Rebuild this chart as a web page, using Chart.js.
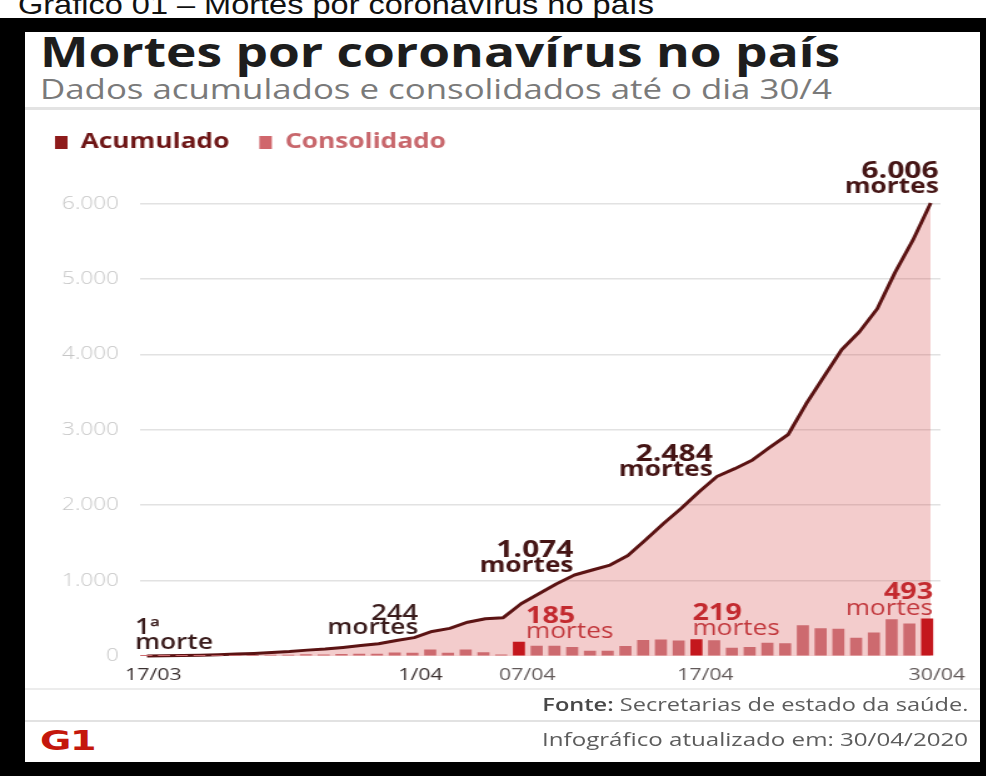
<!DOCTYPE html>
<html lang="pt-BR">
<head>
<meta charset="utf-8">
<title>Mortes por coronavírus no país</title>
<script src="https://cdn.jsdelivr.net/npm/chart.js@4.4.1/dist/chart.umd.min.js"></script>
<style>
  html, body { margin: 0; padding: 0; background: #fff; }
  body { position: relative; width: 986px; height: 776px; overflow: hidden; font-family: "Open Sans", "DejaVu Sans", sans-serif; }
  .txt { position: absolute; white-space: nowrap; transform-origin: 0 0; }
  .dir { transform-origin: 100% 0; }
  #cabecalho { left: 18px; top: -9px; font: 28px/28px "Liberation Sans", Arial, sans-serif; color: #111; }
  #moldura { position: absolute; left: 0; top: 18px; width: 986px; height: 758px; background: #000; }
  #cartao { position: absolute; left: 25px; top: 32px; width: 955px; height: 730px; background: #fff; overflow: hidden; }
  #titulo { left: 15px; top: -2.3px; font: 700 42px/42px "Open Sans", sans-serif; color: #1d1d1d; }
  #subtitulo { left: 15px; top: 42px; font: 400 28px/28px "Open Sans", sans-serif; color: #7a7a7a; }
  .sep { position: absolute; left: 0; width: 955px; }
  #sep1 { top: 75px; height: 3px; background: #e3e3e3; }
  #sep2 { top: 656px; height: 2px; background: #ececec; }
  #sep3 { top: 688px; height: 2px; background: #e2e2e2; }
  #grafico { position: absolute; left: 0; top: 76px; }
  #fonte { right: 12px; top: 663px; font: 400 18px/18px "Open Sans", sans-serif; color: #5c5c5c; }
  #fonte b { font-weight: 600; color: #474747; }
  #atualizacao { right: 12px; top: 698px; font: 400 18px/18px "Open Sans", sans-serif; color: #5c5c5c; }
  #logo { left: 15px; top: 695px; font: 700 27px/27px "DejaVu Sans", sans-serif; color: #c4170c; letter-spacing: -1px; }
</style>
</head>
<body>
<div id="cabecalho" class="txt">Gráfico 01 – Mortes por coronavírus no país</div>
<div id="moldura"></div>
<div id="cartao">
  <div id="titulo" class="txt">Mortes por coronavírus no país</div>
  <div id="subtitulo" class="txt">Dados acumulados e consolidados até o dia 30/4</div>
  <div id="sep1" class="sep"></div>
  <canvas id="grafico" width="762" height="588"></canvas>
  <div id="sep2" class="sep"></div>
  <div id="fonte" class="txt dir"><b>Fonte:</b> Secretarias de estado da saúde.</div>
  <div id="sep3" class="sep"></div>
  <div id="atualizacao" class="txt dir">Infográfico atualizado em: 30/04/2020</div>
  <div id="logo" class="txt">G1</div>
</div>
<script>
// ---- Dados ----
const dias = [
  '17/03','18/03','19/03','20/03','21/03','22/03','23/03','24/03','25/03','26/03',
  '27/03','28/03','29/03','30/03','31/03','01/04','02/04','03/04','04/04','05/04',
  '06/04','07/04','08/04','09/04','10/04','11/04','12/04','13/04','14/04','15/04',
  '16/04','17/04','18/04','19/04','20/04','21/04','22/04','23/04','24/04','25/04',
  '26/04','27/04','28/04','29/04','30/04'
];
// mortes acumuladas por dia
const acumulado = [
  1, 4, 7, 11, 18, 25, 34, 47, 59, 78,
  93, 114, 138, 163, 206, 244, 326, 366, 448, 493,
  508, 693, 826, 959, 1074, 1140, 1206, 1334, 1542, 1758,
  1958, 2177, 2380, 2484, 2600, 2772, 2937, 3341, 3703, 4061,
  4299, 4605, 5087, 5513, 6006
];
// mortes consolidadas no dia
const consolidado = [
  1, 3, 3, 4, 7, 7, 9, 13, 12, 19,
  15, 21, 24, 25, 43, 38, 82, 40, 82, 45,
  15, 185, 133, 133, 115, 66, 66, 128, 208, 216,
  200, 219, 203, 104, 116, 172, 165, 404, 362, 358,
  238, 306, 482, 426, 493
];
const diasDestaque = ['07/04', '17/04', '30/04'];
const marcasEixoX = ['17/03', '01/04', '07/04', '17/04', '30/04'];
const textosEixoX = ['17/03', '1/04', '07/04', '17/04', '30/04'];
const marcasEixoY = [0, 1000, 2000, 3000, 4000, 5000, 6000];

// ---- Layout ----
// o canvas é desenhado mais estreito e esticado na horizontal
const ESTIRAMENTO = 1.25;
const canvas = document.getElementById('grafico');
canvas.style.width = (canvas.width * ESTIRAMENTO) + 'px';
canvas.style.height = canvas.height + 'px';

function ajustarLargura(id, largura) {
  const el = document.getElementById(id);
  const w = el.getBoundingClientRect().width;
  el.style.transform = 'scaleX(' + (largura / w) + ')';
}
ajustarLargura('cabecalho', 636);
ajustarLargura('titulo', 800);
ajustarLargura('subtitulo', 792);
ajustarLargura('fonte', 426);
ajustarLargura('atualizacao', 426);
ajustarLargura('logo', 55);

function formatarMilhar(v) {
  return String(v).replace(/\B(?=(\d{3})+(?!\d))/g, '.');
}

const corEscura = '#451515';
const corMedia = '#3a1c1c';
const corVermelha = '#c32a2f';
const corVermelhaTexto = '#c2383d';
const fam = '"Open Sans", sans-serif';

// rótulos presos aos pontos (série 0) ou ao topo das barras (série 1)
const rotulosValores = [
  { serie: 0, dia: '17/03', alinh: 'left', dx: -12, linhas: [
    { texto: v => v + 'ª', peso: 600, tam: 21, cor: corMedia, dy: -22 },
    { texto: () => 'morte', peso: 600, tam: 21, cor: corMedia, dy: -7 } ] },
  { serie: 0, dia: '01/04', alinh: 'right', dx: 4, linhas: [
    { texto: formatarMilhar, peso: 600, tam: 22, cor: corMedia, dy: -17.5 },
    { texto: () => 'mortes', peso: 600, tam: 21, cor: corMedia, dy: -3.5 } ] },
  { serie: 0, dia: '10/04', alinh: 'right', dx: -1, linhas: [
    { texto: formatarMilhar, peso: 700, tam: 24, cor: corEscura, dy: -18.5 },
    { texto: () => 'mortes', peso: 700, tam: 21, cor: corEscura, dy: -3.5 } ] },
  { serie: 0, dia: '19/04', alinh: 'right', dx: -22, linhas: [
    { texto: formatarMilhar, peso: 700, tam: 24, cor: corEscura, dy: -7.5 },
    { texto: () => 'mortes', peso: 700, tam: 21, cor: corEscura, dy: 7.5 } ] },
  { serie: 0, dia: '30/04', alinh: 'right', dx: 8, linhas: [
    { texto: formatarMilhar, peso: 700, tam: 24, cor: corEscura, dy: -25.5 },
    { texto: () => 'mortes', peso: 700, tam: 21, cor: corEscura, dy: -10.5 } ] },
  { serie: 1, dia: '07/04', alinh: 'left', dx: 7, linhas: [
    { texto: formatarMilhar, peso: 700, tam: 23, cor: corVermelha, dy: -19.5 },
    { texto: () => 'mortes', peso: 400, tam: 21, cor: corVermelhaTexto, dy: -4 } ] },
  { serie: 1, dia: '17/04', alinh: 'left', dx: -4, linhas: [
    { texto: formatarMilhar, peso: 700, tam: 23, cor: corVermelha, dy: -19.5 },
    { texto: () => 'mortes', peso: 400, tam: 21, cor: corVermelhaTexto, dy: -4 } ] },
  { serie: 1, dia: '30/04', alinh: 'right', dx: 6, linhas: [
    { texto: formatarMilhar, peso: 700, tam: 23, cor: corVermelha, dy: -19.5 },
    { texto: () => 'mortes', peso: 400, tam: 21, cor: corVermelhaTexto, dy: -4 } ] }
];

const pluginRotulos = {
  id: 'rotulosValores',
  afterDatasetsDraw(chart) {
    const ctx = chart.ctx;
    ctx.save();
    ctx.textBaseline = 'alphabetic';
    rotulosValores.forEach(r => {
      const i = dias.indexOf(r.dia);
      const el = chart.getDatasetMeta(r.serie).data[i];
      const valor = chart.data.datasets[r.serie].data[i].y;
      r.linhas.forEach(l => {
        ctx.font = l.peso + ' ' + l.tam + 'px ' + fam;
        ctx.fillStyle = l.cor;
        ctx.textAlign = r.alinh;
        ctx.fillText(l.texto(valor), el.x + r.dx / ESTIRAMENTO, el.y + l.dy);
      });
    });
    ctx.restore();
  }
};

// altura fixa para a faixa da legenda
const ALTURA_LEGENDA = 95.5;
const pluginAlturaLegenda = {
  id: 'alturaLegenda',
  beforeLayout(chart) {
    const leg = chart.legend;
    if (leg && !leg._alturaFixa) {
      const fitOriginal = leg.fit;
      leg.fit = function () { fitOriginal.call(this); this.height = ALTURA_LEGENDA; };
      leg._alturaFixa = true;
    }
  }
};

new Chart(canvas, {
  data: {
    datasets: [
      {
        type: 'line',
        label: 'Acumulado',
        data: acumulado.map((v, i) => ({ x: i, y: v })),
        xAxisID: 'x',
        yAxisID: 'y',
        borderColor: '#5b1313',
        borderWidth: 3,
        borderJoinStyle: 'round',
        backgroundColor: 'rgba(205, 40, 40, 0.24)',
        fill: 'origin',
        pointRadius: 0,
        tension: 0,
        clip: false,
        order: 2
      },
      {
        type: 'bar',
        label: 'Consolidado',
        data: consolidado.map((v, i) => ({ x: i, y: v })),
        xAxisID: 'xb',
        yAxisID: 'y',
        backgroundColor: c => diasDestaque.includes(dias[c.dataIndex]) ? '#c4171d' : '#cd6a6f',
        barThickness: 9,
        order: 1
      }
    ]
  },
  options: {
    responsive: false,
    animation: false,
    events: [],
    devicePixelRatio: 1,
    layout: { padding: { left: 0, right: 30, top: 0, bottom: 0 } },
    plugins: {
      tooltip: { enabled: false },
      legend: {
        position: 'top',
        align: 'start',
        labels: {
          boxWidth: 10,
          boxHeight: 13,
          padding: 24,
          font: { family: 'Open Sans', weight: 'bold', size: 21 },
          generateLabels: () => [
            { text: 'Acumulado', fillStyle: '#8e1b1b', strokeStyle: '#8e1b1b', lineWidth: 0, fontColor: '#6e1616', datasetIndex: 0 },
            { text: 'Consolidado', fillStyle: '#d0676c', strokeStyle: '#d0676c', lineWidth: 0, fontColor: '#c8676c', datasetIndex: 1 }
          ]
        }
      }
    },
    scales: {
      x: {
        type: 'linear',
        position: 'bottom',
        offset: false,
        min: -0.39,
        max: 44.55,
        afterBuildTicks: s => { s.ticks = marcasEixoX.map(d => ({ value: dias.indexOf(d) })); },
        afterFit: s => { s.height = 40; },
        grid: { display: false, drawTicks: false },
        border: { display: false },
        ticks: {
          autoSkip: false,
          maxRotation: 0,
          padding: 9,
          labelOffset: 5,
          color: c => c.index < 2 ? '#3b3131' : '#625a5a',
          font: { family: 'Open Sans', size: 17 },
          callback: (v, idx) => textosEixoX[idx]
        }
      },
      xb: {
        type: 'linear',
        display: false,
        offset: false,
        grid: { offset: false },
        min: -0.03,
        max: 45.07
      },
      y: {
        type: 'linear',
        min: 0,
        max: 6000,
        afterBuildTicks: s => { s.ticks = marcasEixoY.map(v => ({ value: v })); },
        afterFit: s => { s.width = 92; },
        grid: {
          color: c => c.tick && c.tick.value === 0 ? 'rgba(0,0,0,0)' : '#e2e2e2',
          lineWidth: 1.5,
          drawTicks: false
        },
        border: { display: false },
        ticks: {
          padding: 17,
          color: '#c6c6c6',
          font: { family: 'Open Sans', size: 18, weight: 300 },
          callback: v => formatarMilhar(v)
        }
      }
    }
  },
  plugins: [pluginRotulos, pluginAlturaLegenda]
});
</script>
</body>
</html>
